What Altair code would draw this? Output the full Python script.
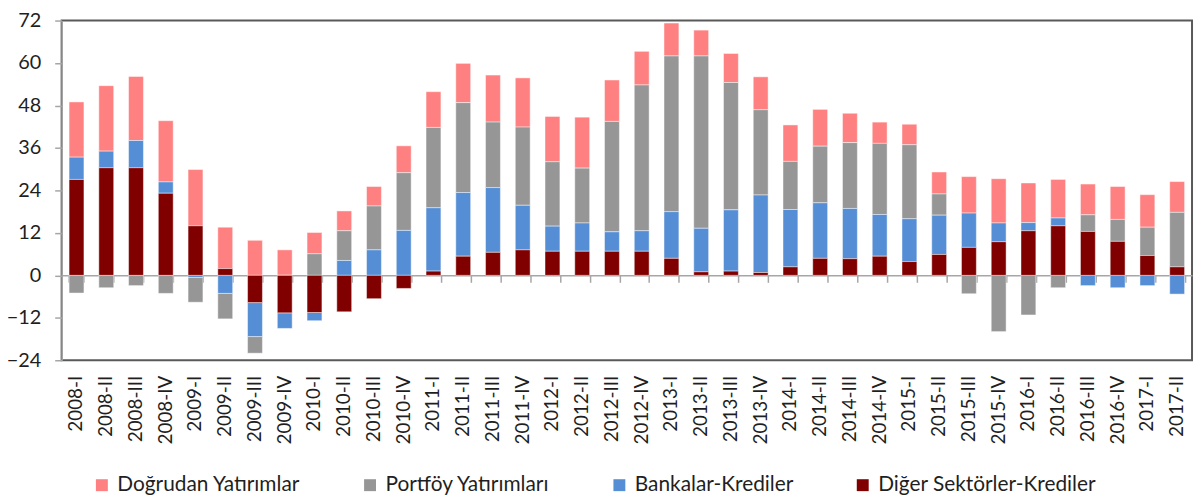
import altair as alt
import pandas as pd

quarters = [
    "2008-I", "2008-II", "2008-III", "2008-IV",
    "2009-I", "2009-II", "2009-III", "2009-IV",
    "2010-I", "2010-II", "2010-III", "2010-IV",
    "2011-I", "2011-II", "2011-III", "2011-IV",
    "2012-I", "2012-II", "2012-III", "2012-IV",
    "2013-I", "2013-II", "2013-III", "2013-IV",
    "2014-I", "2014-II", "2014-III", "2014-IV",
    "2015-I", "2015-II", "2015-III", "2015-IV",
    "2016-I", "2016-II", "2016-III", "2016-IV",
    "2017-I", "2017-II",
]

dogrudan = [15.6, 18.5, 18.1, 17.3, 15.9, 11.7, 9.9, 7.2, 6.0, 5.6, 5.5, 7.6,
            10.1, 11.1, 13.3, 13.9, 12.8, 14.4, 11.7, 9.5, 9.3, 7.3, 8.2, 9.3,
            10.3, 10.4, 8.3, 6.0, 5.8, 6.2, 10.3, 12.5, 11.2, 10.9, 8.7, 9.3,
            9.2, 8.7]
portfoy = [-5.0, -3.5, -2.9, -5.1, -7.0, -7.2, -4.7, 0.0, 6.1, 8.4, 12.4, 16.3,
           22.7, 25.4, 18.5, 22.1, 18.2, 15.5, 31.2, 41.2, 44.0, 48.7, 36.0, 24.1,
           13.6, 16.0, 18.6, 20.1, 20.9, 6.0, -5.2, -15.9, -11.2, -3.5, 4.7, 6.2,
           8.0, 15.4]
bankalar = [6.3, 4.7, 7.7, 3.2, -0.6, -5.1, -9.6, -4.4, -2.3, 4.2, 7.2, 12.7,
            17.9, 18.0, 18.3, 12.6, 7.1, 8.0, 5.5, 5.8, 13.2, 12.3, 17.3, 21.9,
            16.2, 15.7, 14.2, 11.8, 12.1, 11.1, 9.7, 5.3, 2.3, 2.2, -2.9, -3.5,
            -2.9, -5.3]
diger = [27.1, 30.4, 30.4, 23.2, 14.0, 1.9, -7.7, -10.6, -10.5, -10.3, -6.6, -3.7,
         1.2, 5.4, 6.5, 7.2, 6.8, 6.8, 6.8, 6.8, 4.8, 1.0, 1.2, 0.8,
         2.4, 4.8, 4.7, 5.4, 3.9, 5.9, 7.9, 9.5, 12.6, 14.0, 12.4, 9.6,
         5.6, 2.4]

series_names = ["Doğrudan Yatırımlar", "Portföy Yatırımları",
                "Bankalar-Krediler", "Diğer Sektörler-Krediler"]
series_colors = ["#FF8080", "#969696", "#558ED5", "#800000"]
stack_rank = [3, 2, 1, 0]
y_ticks = [-24, -12, 0, 12, 24, 36, 48, 60, 72]

rows = []
for name, rank, vals in zip(series_names, stack_rank, [dogrudan, portfoy, bankalar, diger]):
    for q, v in zip(quarters, vals):
        rows.append({"donem": q, "seri": name, "deger": v, "sira": rank})
df = pd.DataFrame(rows)

FONT = "Lato"
TXT = "#1F1F1F"
AX = "#A6A6A6"

xscale = alt.Scale(domain=quarters, paddingInner=0.5, paddingOuter=0.25)
yscale = alt.Scale(domain=[-24, 72], nice=False, zero=False)

bars = alt.Chart(df).mark_bar(stroke="white", strokeWidth=1, strokeOpacity=0.45).encode(
    x=alt.X("donem:N", sort=quarters, scale=xscale,
            axis=alt.Axis(title=None, orient="bottom", labelAngle=-90, domain=False, ticks=False,
                          labelPadding=15, labelFont=FONT, labelFontSize=19,
                          labelColor=TXT)),
    y=alt.Y("deger:Q", stack="zero", scale=yscale,
            axis=alt.Axis(title=None, values=y_ticks, grid=False, domainColor=AX,
                          domainWidth=1.5, tickColor=AX, tickWidth=1.5, tickSize=7,
                          labelPadding=14, labelFont=FONT, labelFontSize=20,
                          labelColor=TXT)),
    color=alt.Color("seri:N", scale=alt.Scale(domain=series_names, range=series_colors),
                    legend=alt.Legend(title=None, orient="none", legendX=30, legendY=457,
                                      direction="horizontal", columns=4, columnPadding=59,
                                      symbolType="square", symbolSize=144, symbolStrokeWidth=0,
                                      labelFont=FONT, labelFontSize=21, labelColor=TXT,
                                      labelOffset=5, padding=0, labelLimit=400)),
    order=alt.Order("sira:Q", sort="ascending"),
)

zero_axis = alt.Chart(df).mark_point(opacity=0).encode(
    x=alt.X("donem:N", sort=quarters, scale=xscale,
            axis=alt.Axis(title=None, orient="bottom", offset=-85.5, labels=False,
                          domainColor=AX, domainWidth=1.5, tickColor=AX, tickWidth=1.5,
                          tickSize=7, tickBand="extent")),
    y=alt.datum(0),
)

chart = alt.layer(bars, zero_axis).resolve_axis(x="independent").properties(
    width=1138, height=342,
    autosize=alt.AutoSizeParams(type="none"),
    padding={"left": 54, "top": 11, "right": 3, "bottom": 134},
).configure_view(stroke="#595959", strokeWidth=2)

chart.save("out.html", embed_options={"renderer": "svg", "actions": False})
